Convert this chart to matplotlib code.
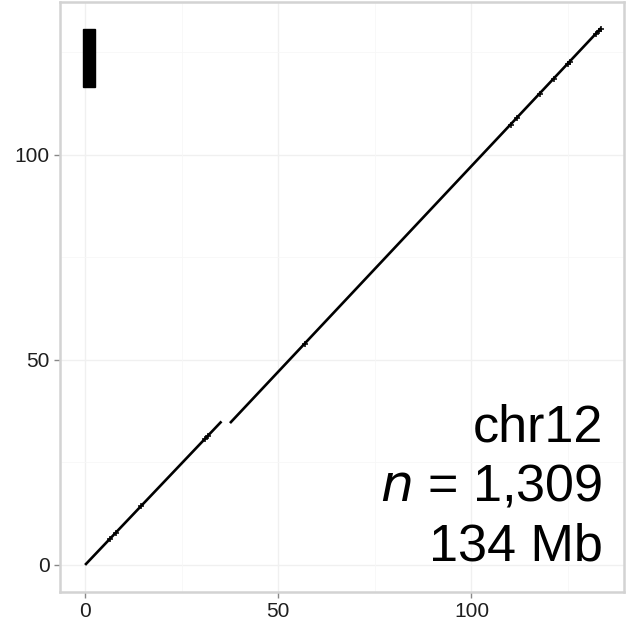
import matplotlib
matplotlib.use("Agg")
from matplotlib import pyplot as plt
from matplotlib.patches import Rectangle

plt.rcParams['font.family'] = ['Liberation Sans', 'DejaVu Sans']

# syntenic blocks (x start, x end, y start, y end), Mb
blk_x0 = [0.0, 37.5]
blk_x1 = [35.3, 133.6]
blk_y0 = [0.0, 34.6]
blk_y1 = [35.0, 131.0]

# small off-block hits
pt_x = [6.5, 8.0, 14.5, 31.0, 31.8, 56.8, 110.3, 111.9, 117.8, 121.4, 125.1, 125.4, 132.3, 133.1, 133.5]
pt_y = [6.4, 7.9, 14.3, 30.7, 31.5, 54.0, 107.4, 109.0, 114.9, 118.5, 122.3, 122.6, 129.5, 130.3, 130.8]

# centromere marker
cen_x = 1.0
cen_w = 3.0
cen_y0 = 116.6
cen_y1 = 130.7

chrom = 'chr12'
n_hits = '1,309'
size_mb = '134 Mb'

fig = plt.figure(figsize=(6.26, 6.25), dpi=100)
ax = fig.add_axes([0.0958, 0.0528, 0.9012, 0.944])

for v in [0, 50, 100]:
    ax.axvline(v, color='#f0f0f0', lw=1.0, zorder=0)
    ax.axhline(v, color='#f0f0f0', lw=1.0, zorder=0)
for v in [25, 75, 125]:
    ax.axvline(v, color='#f7f7f7', lw=0.6, zorder=0)
    ax.axhline(v, color='#f7f7f7', lw=0.6, zorder=0)

for x0, x1, y0, y1 in zip(blk_x0, blk_x1, blk_y0, blk_y1):
    ax.plot([x0, x1], [y0, y1], color='black', lw=1.9, solid_capstyle='butt', zorder=2)

ax.scatter(pt_x, pt_y, marker='+', s=18, color='black', lw=1.1, zorder=3)

ax.add_patch(Rectangle((cen_x - cen_w / 2, cen_y0), cen_w, cen_y1 - cen_y0,
                       color='black', zorder=3))

ax.text(134.0, 1.2, f'{chrom}\n$n$ = {n_hits}\n{size_mb}', ha='right', va='baseline',
        fontsize=37.5, linespacing=1.27, color='black')

ax.set_xlim(-6.5, 139.5)
ax.set_ylim(-6.6, 137.3)
ax.set_xticks([0, 50, 100])
ax.set_yticks([0, 50, 100])
ax.tick_params(labelsize=15, colors='#1e1e1e', length=4, width=1.0)
ax.tick_params(axis='both', color='#888888')
for s in ax.spines.values():
    s.set_color('#d3d3d3')
    s.set_linewidth(1.8)

fig.savefig('out.png', dpi=100)
